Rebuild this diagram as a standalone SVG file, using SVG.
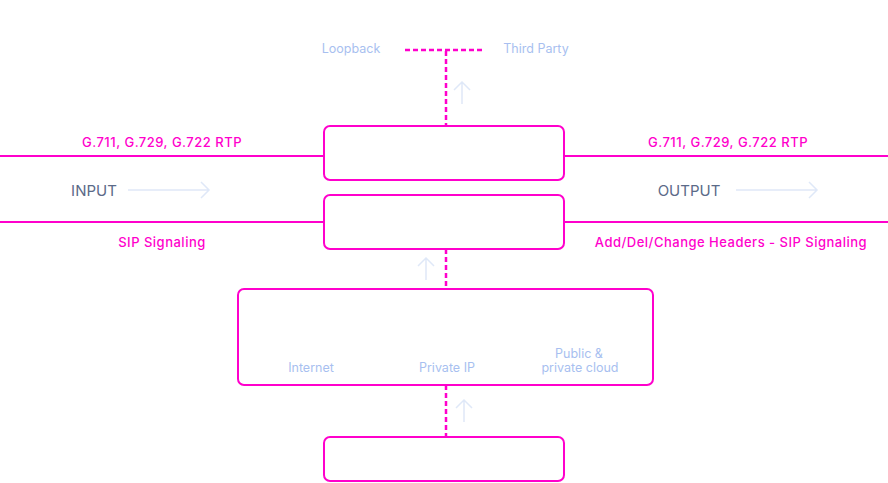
<svg xmlns="http://www.w3.org/2000/svg" width="888" height="483" viewBox="0 0 888 483">
<style>
.box{fill:#fff;stroke:#ff00cc;stroke-width:2}
.line{stroke:#ff00cc;stroke-width:2;fill:none}
.dash{stroke:#ff00cc;stroke-width:2.5;fill:none;stroke-dasharray:5 3}
.arr{stroke:#dfe8f8;stroke-width:1.5;fill:none}
.mag{font-family:Inter,"Liberation Sans",sans-serif;font-size:13px;font-weight:500;fill:#ff00cc;text-anchor:middle;letter-spacing:0.5px}
.io{font-family:Inter,"Liberation Sans",sans-serif;font-size:15px;fill:#5b6a88;text-anchor:middle}
.lt{font-family:Inter,"Liberation Sans",sans-serif;font-size:12.5px;fill:#a8bff0;text-anchor:middle}
</style>
<rect width="888" height="483" fill="#fff"/>
<g id="connectors">
<line class="line" x1="0" y1="156" x2="324" y2="156"/>
<line class="line" x1="564" y1="156" x2="888" y2="156"/>
<line class="line" x1="0" y1="222" x2="324" y2="222"/>
<line class="line" x1="564" y1="222" x2="888" y2="222"/>
<line class="dash" x1="405" y1="50" x2="484" y2="50"/>
<line class="dash" x1="446" y1="51" x2="446" y2="126"/>
<line class="dash" x1="446" y1="249" x2="446" y2="289"/>
<line class="dash" x1="446" y1="385" x2="446" y2="437"/>
<path class="arr" d="M462 104V82M454 90L462 82L470 90"/>
<path class="arr" d="M426 280V258M418 266L426 258L434 266"/>
<path class="arr" d="M464 422V400M456 408L464 400L472 408"/>
<path class="arr" d="M128 190H209M201 182L209 190L201 198"/>
<path class="arr" d="M736 190H817M809 182L817 190L809 198"/>
</g>
<g id="node-top"><rect class="box" x="324" y="126" width="240" height="54" rx="6"/></g>
<g id="node-sip"><rect class="box" x="324" y="195" width="240" height="54" rx="6"/></g>
<g id="node-network"><rect class="box" x="238" y="289" width="415" height="96" rx="6"/>
<text class="lt" x="311" y="372">Internet</text>
<text class="lt" x="447" y="372">Private IP</text>
<text class="lt" x="579" y="358">Public &amp;</text>
<text class="lt" x="580" y="372">private cloud</text>
</g>
<g id="node-bottom"><rect class="box" x="324" y="437" width="240" height="44" rx="6"/></g>
<g id="labels">
<text class="lt" x="351" y="53">Loopback</text>
<text class="lt" x="536" y="53">Third Party</text>
<text class="mag" x="162" y="147">G.711, G.729, G.722 RTP</text>
<text class="mag" x="728" y="147">G.711, G.729, G.722 RTP</text>
<text class="mag" x="162" y="247">SIP Signaling</text>
<text class="mag" x="731" y="247">Add/Del/Change Headers - SIP Signaling</text>
<text class="io" x="94" y="196">INPUT</text>
<text class="io" x="689" y="196">OUTPUT</text>
</g>
</svg>
